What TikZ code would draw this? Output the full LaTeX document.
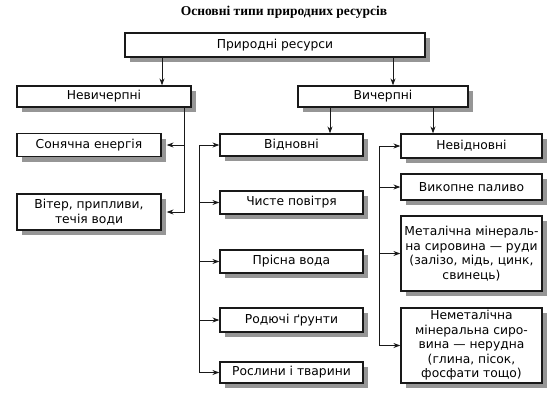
\documentclass[tikz,border=0pt]{standalone}
\usepackage{fontspec}
\setmainfont{DejaVu Sans}
\newfontfamily\titlefont{Liberation Serif}
\usetikzlibrary{arrows.meta}
\definecolor{shadowgray}{RGB}{150,150,150}
\newcommand\mybox[6]{%
  \fill[shadowgray] ({#2-#4/2+5},{#3-#5/2+5}) rectangle ({#2+#4/2+5},{#3+#5/2+5});
  \node[box, minimum width=#4, minimum height=#5] (#1) at (#2,#3) {#6};}
\begin{document}
\begin{tikzpicture}[x=1pt,y=-1pt,
  box/.style={draw=black!90, line width=1.2pt, fill=white, inner sep=1pt, align=center,
    font=\fontsize{12.3}{14.5}\selectfont},
  arr/.style={-{Stealth[length=7pt,width=5pt]}, line width=1pt, draw=black!90},
  ln/.style={line width=1pt, draw=black!90}]
\useasboundingbox (0,0) rectangle (556,392);
\node[font=\titlefont\bfseries\fontsize{13.5}{15}\selectfont] (title) at (284,12) {Основні типи природних ресурсів};

\mybox{top}{275}{45}{300}{24}{Природні ресурси}
\mybox{nev}{104}{96.5}{174}{21}{Невичерпні}
\mybox{vych}{383}{96.5}{170}{21}{Вичерпні}

\mybox{son}{89}{145}{144}{23}{Сонячна енергія}
\mybox{viter}{89}{212}{144}{36}{Вітер, припливи,\\течія води}

\mybox{vidn}{291.5}{145}{143}{22}{Відновні}
\mybox{chyste}{291.5}{202.5}{143}{23}{Чисте повітря}
\mybox{prisna}{291.5}{261.5}{143}{23}{Прісна вода}
\mybox{rod}{291.5}{320}{143}{24}{Родючі ґрунти}
\mybox{rosl}{291.5}{372.5}{143}{21}{Рослини і тварини}

\mybox{nevidn}{471.5}{146}{141}{24}{Невідновні}
\mybox{vykop}{471.5}{187}{141}{26}{Викопне паливо}
\mybox{metal}{471.5}{253.5}{141}{75}{Металічна мінераль-\\на сировина — руди\\(залізо, мідь, цинк,\\свинець)}
\mybox{nemetal}{471.5}{345.5}{141}{75}{Неметалічна\\мінеральна сиро-\\вина — нерудна\\(глина, пісок,\\фосфати тощо)}

\coordinate (xa) at (162,0);
\coordinate (xb) at (393,0);
\coordinate (xc) at (330,0);
\coordinate (xd) at (433,0);
\coordinate (xn) at (184,0);
\coordinate (xl) at (199,0);
\coordinate (xr) at (379,0);

\draw[arr] (top.south -| xa) -- (nev.north -| xa);
\draw[arr] (top.south -| xb) -- (vych.north -| xb);
\draw[arr] (vych.south -| xc) -- (vidn.north -| xc);
\draw[arr] (vych.south -| xd) -- (nevidn.north -| xd);

\draw[arr] (nev.south -| xn) |- ([xshift=5pt]viter.east);
\draw[arr] (xn |- son.east) -- ([xshift=5pt]son.east);

\draw[ln] (xl |- vidn.west) -- (xl |- rosl.west);
\foreach \b in {vidn,chyste,prisna,rod,rosl}
  \draw[arr] (xl |- \b.west) -- (\b.west);

\draw[ln] (xr |- nevidn.west) -- (xr |- nemetal.west);
\foreach \b in {nevidn,vykop,metal,nemetal}
  \draw[arr] (xr |- \b.west) -- (\b.west);
\end{tikzpicture}
\end{document}
